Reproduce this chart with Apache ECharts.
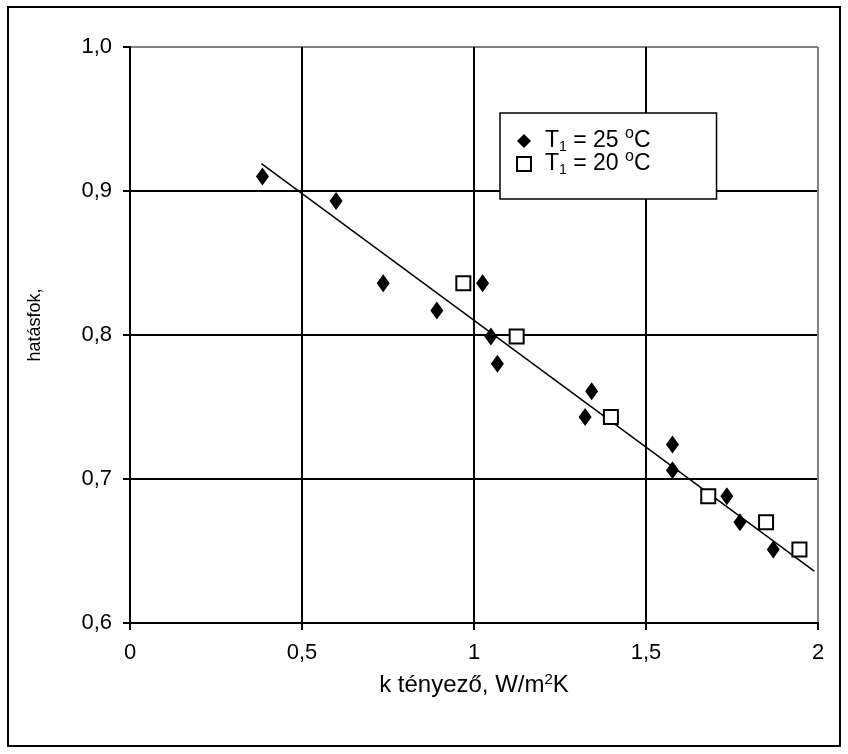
<!DOCTYPE html>
<html>
<head>
<meta charset="utf-8">
<script src="https://cdn.jsdelivr.net/npm/echarts@6/dist/echarts.min.js"></script>
<style>
  html, body { margin: 0; padding: 0; background: #fff; }
  #chart { width: 848px; height: 754px; }
</style>
</head>
<body>
<div id="chart"></div>
<script>
// T1 = 25 oC measurements (diamonds)
const k25 = [0.385, 0.599, 0.736, 0.892, 1.025, 1.049, 1.068, 1.323, 1.342, 1.577, 1.577, 1.735, 1.773, 1.870];
const eta25 = [0.910, 0.893, 0.836, 0.817, 0.836, 0.799, 0.780, 0.743, 0.761, 0.724, 0.706, 0.688, 0.670, 0.651];
// T1 = 20 oC measurements (open squares)
const k20 = [0.969, 1.124, 1.398, 1.681, 1.849, 1.946];
const eta20 = [0.836, 0.799, 0.743, 0.688, 0.670, 0.651];
// fitted trend line end points
const trendK = [0.382, 1.989];
const trendEta = [0.919, 0.636];

const seriesNames = ['T1 = 25 oC', 'T1 = 20 oC'];
const legendLabels = {
  'T1 = 25 oC': '{p|}{a|T}{sub|1}{a| = 25 }{sup|o}{a|C}',
  'T1 = 20 oC': '{p|}{a|T}{sub|1}{a| = 20 }{sup|o}{a|C}'
};

const zip = (xs, ys) => xs.map((x, i) => [x, ys[i]]);
const font = 'Liberation Sans, Arial, sans-serif';

const chart = echarts.init(document.getElementById('chart'));
chart.setOption({
  animation: false,
  backgroundColor: '#fff',
  grid: { left: 130, right: 30, top: 47, bottom: 131, outerBoundsMode: 'none' },
  graphic: [{
    type: 'rect',
    shape: { x: 8, y: 7, width: 832, height: 739 },
    style: { fill: 'none', stroke: '#000', lineWidth: 2 },
    silent: true
  }],
  legend: {
    orient: 'vertical',
    left: 500,
    top: 113,
    padding: [13, 66, 22, 16],
    backgroundColor: '#fff',
    borderColor: '#000',
    borderWidth: 1.5,
    itemGap: -5,
    itemWidth: 14,
    itemHeight: 14,
    data: [{ name: seriesNames[0], icon: 'diamond' }, { name: seriesNames[1], icon: 'rect' }],
    formatter: name => legendLabels[name],
    textStyle: {
      fontFamily: font,
      rich: {
        p: { width: 9 },
        a: { fontSize: 23, fontFamily: font, color: '#000', lineHeight: 30, verticalAlign: 'middle' },
        sub: { fontSize: 14, fontFamily: font, color: '#000', lineHeight: 8, verticalAlign: 'top', padding: [14, 0, 0, 0] },
        sup: { fontSize: 16, fontFamily: font, color: '#000', lineHeight: 6, verticalAlign: 'top' }
      }
    }
  },
  xAxis: {
    type: 'value',
    min: 0,
    max: 2,
    interval: 0.5,
    name: 'k tényező, W/m{sup|2}K',
    nameLocation: 'middle',
    nameGap: 49,
    nameTextStyle: {
      fontFamily: font, fontSize: 24, color: '#000', lineHeight: 26,
      rich: { sup: { fontSize: 15, fontFamily: font, color: '#000', verticalAlign: 'top', lineHeight: 10 } }
    },
    axisLine: { show: true, lineStyle: { color: '#000', width: 2 } },
    axisTick: { show: true, length: 7, inside: false, lineStyle: { color: '#000', width: 2 } },
    axisLabel: {
      margin: 19, color: '#000', fontFamily: font, fontSize: 22,
      formatter: v => String(v).replace('.', ',')
    },
    splitLine: { show: true, lineStyle: { color: ['#000', '#000', '#000', '#000', '#808080'], width: 2 } }
  },
  yAxis: {
    type: 'value',
    min: 0.6,
    max: 1.0,
    interval: 0.1,
    name: 'hatásfok,',
    nameLocation: 'middle',
    nameRotate: 90,
    nameGap: 86,
    nameMoveOverlap: false,
    nameTextStyle: { fontFamily: font, fontSize: 18, color: '#000', padding: [0, 0, 0, 20] },
    axisLine: { show: true, lineStyle: { color: '#000', width: 2 } },
    axisTick: { show: true, length: 7, inside: false, lineStyle: { color: '#000', width: 2 } },
    axisLabel: {
      margin: 18, color: '#000', fontFamily: font, fontSize: 22,
      formatter: v => v.toFixed(1).replace('.', ',')
    },
    splitLine: { show: true, lineStyle: { color: ['#000', '#000', '#000', '#000', '#808080'], width: 2 } }
  },
  series: [
    {
      name: 'trend',
      type: 'line',
      data: zip(trendK, trendEta),
      symbol: 'none',
      lineStyle: { color: '#000', width: 1.5 },
      silent: true,
      z: 2
    },
    {
      name: seriesNames[0],
      type: 'scatter',
      data: zip(k25, eta25),
      symbol: 'diamond',
      symbolSize: [13, 18],
      itemStyle: { color: '#000', opacity: 1 },
      z: 3
    },
    {
      name: seriesNames[1],
      type: 'scatter',
      data: zip(k20, eta20),
      symbol: 'rect',
      symbolSize: 14,
      itemStyle: { color: '#fff', borderColor: '#000', borderWidth: 2, opacity: 1 },
      z: 3
    }
  ]
});
</script>
</body>
</html>
